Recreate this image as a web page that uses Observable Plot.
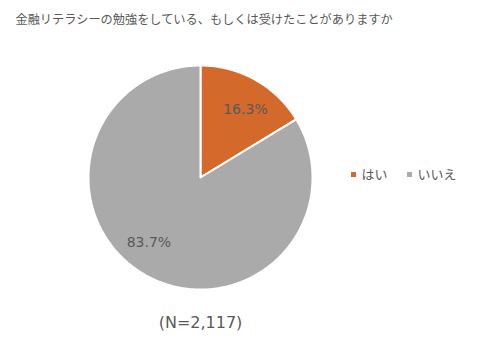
<!DOCTYPE html>
<html>
<head>
<meta charset="utf-8">
<script src="https://cdn.jsdelivr.net/npm/d3@7"></script>
<script src="https://cdn.jsdelivr.net/npm/@observablehq/plot@0.6"></script>
<style>
  html, body { margin: 0; padding: 0; background: #fff; }
</style>
</head>
<body>
<div id="chart"></div>
<script>
const title = "金融リテラシーの勉強をしている、もしくは受けたことがありますか";
const categories = ["はい", "いいえ"];
const values = [16.3, 83.7];
const labels = ["16.3%", "83.7%"];
const caption = "(N=2,117)";
const colors = ["#D4692C", "#AAAAAA"];

const W = 479, H = 344;
const cx = 200, cy = 177, R = 112;

const arcs = d3.pie().sort(null).value(d => d)(values);

function slicePoints(a) {
  const pts = [{x: cx, y: cy}];
  const steps = Math.max(2, Math.ceil((a.endAngle - a.startAngle) / (Math.PI / 180)));
  for (let i = 0; i <= steps; i++) {
    const t = a.startAngle + (a.endAngle - a.startAngle) * i / steps;
    pts.push({x: cx + R * Math.sin(t), y: cy - R * Math.cos(t)});
  }
  pts.push({x: cx, y: cy});
  return pts;
}

const labelFactor = [0.73, 0.74];
const labelShift = [0.07, 0.16];
const labelData = arcs.map((a, i) => {
  const m = (a.startAngle + a.endAngle) / 2 + labelShift[i];
  const r = R * labelFactor[i];
  return {x: cx + r * Math.sin(m), y: cy - r * Math.cos(m), label: labels[i]};
});

const legendX = [353, 409];
const legendData = categories.map((c, i) => ({x: legendX[i], y: 174, cat: c, color: colors[i]}));

const chart = Plot.plot({
  width: W,
  height: H,
  margin: 0,
  x: {domain: [0, W], range: [0, W], axis: null},
  y: {domain: [0, H], range: [0, H], axis: null},
  style: {background: "#fff"},
  marks: [
    ...arcs.map((a, i) => Plot.line(slicePoints(a), {
      x: "x", y: "y", fill: colors[i], stroke: "#fff", strokeWidth: 2, strokeLinejoin: "miter"
    })),
    Plot.text(labelData, {
      x: "x", y: "y", text: "label", fill: "#595959",
      fontFamily: "DejaVu Sans", fontSize: 14
    }),
    Plot.text([title], {
      x: () => 15, y: () => 20, text: d => d, textAnchor: "start",
      fill: "#595959", fontFamily: "Noto Sans CJK JP", fontSize: 12.2
    }),
    Plot.dot(legendData, {
      x: "x", y: "y", symbol: "square", r: 2.8, fill: "color", stroke: null
    }),
    Plot.text(legendData, {
      x: "x", y: "y", text: "cat", dx: 8, textAnchor: "start",
      fill: "#595959", fontFamily: "Noto Sans CJK JP", fontSize: 13
    }),
    Plot.text([caption], {
      x: () => 200, y: () => 322, text: d => d,
      fill: "#595959", fontFamily: "DejaVu Sans", fontSize: 16
    })
  ]
});

document.getElementById("chart").appendChild(chart);
</script>
</body>
</html>
